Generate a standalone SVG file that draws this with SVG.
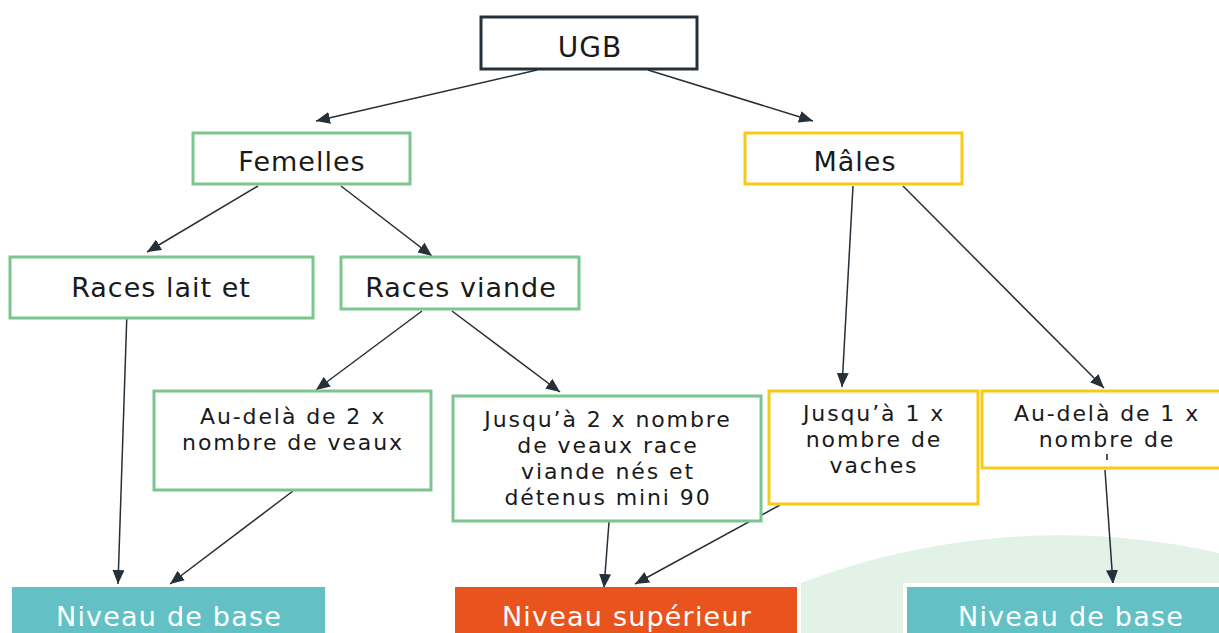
<svg xmlns="http://www.w3.org/2000/svg" width="1219" height="633" viewBox="0 0 1219 633">
<defs>
<marker id="ah" viewBox="0 0 14 12" refX="14" refY="6" markerWidth="14" markerHeight="12" markerUnits="userSpaceOnUse" orient="auto">
<path d="M0,0 L14,6 L0,12 Z" fill="#253039"/>
</marker>
<style>
.t{font-family:"DejaVu Sans","Liberation Sans",sans-serif;fill:#1a1a1a;text-anchor:middle}
.big{font-size:27px;letter-spacing:1px}
.sm{font-size:22px;letter-spacing:1.9px}
.w{font-family:"DejaVu Sans","Liberation Sans",sans-serif;fill:#ffffff;text-anchor:middle;font-size:27px;letter-spacing:1.2px}
.g{fill:#ffffff;stroke:#7dc58f;stroke-width:3}
.y{fill:#ffffff;stroke:#f7cb15;stroke-width:3}
.c{stroke:#253039;stroke-width:1.5;fill:none;marker-end:url(#ah)}
</style>
</defs>
<rect x="0" y="0" width="1219" height="633" fill="#ffffff"/>
<path d="M801,633 V583 A727,727 0 0 1 1219,553 V633 Z" fill="#e2f2e6"/>
<g id="connectors">
<line class="c" x1="537" y1="70" x2="316" y2="121"/>
<line class="c" x1="648" y1="70" x2="813" y2="121"/>
<line class="c" x1="258" y1="186" x2="147" y2="252"/>
<line class="c" x1="341" y1="186" x2="432" y2="256"/>
<line class="c" x1="127" y1="311" x2="118" y2="584"/>
<line class="c" x1="422" y1="311" x2="316" y2="390"/>
<line class="c" x1="452" y1="311" x2="560" y2="392"/>
<line class="c" x1="293" y1="491" x2="170" y2="584"/>
<line class="c" x1="609" y1="522" x2="604" y2="588"/>
<line class="c" x1="780" y1="505" x2="635" y2="584"/>
<line class="c" x1="853" y1="186" x2="842" y2="387"/>
<line class="c" x1="903" y1="186" x2="1104" y2="388"/>
<line class="c" x1="1105" y1="470" x2="1113" y2="584"/>
</g>
<g id="ugb">
<rect x="481" y="17" width="216" height="52" fill="#ffffff" stroke="#253039" stroke-width="3"/>
<text class="t" x="590" y="57" style="font-size:28px;letter-spacing:1px">UGB</text>
</g>
<g id="femelles">
<rect class="g" x="193" y="133" width="217" height="51"/>
<text class="t big" x="302" y="171">Femelles</text>
</g>
<g id="males">
<rect class="y" x="745" y="133" width="217" height="51"/>
<text class="t big" x="855" y="171">Mâles</text>
</g>
<g id="races-lait">
<rect class="g" x="10" y="257" width="303" height="61"/>
<text class="t big" x="161" y="297">Races lait et</text>
</g>
<g id="races-viande">
<rect class="g" x="341" y="257" width="238" height="52"/>
<text class="t big" x="461" y="297">Races viande</text>
</g>
<g id="audela2">
<rect class="g" x="154" y="391" width="277" height="99"/>
<text class="t sm" x="293" y="424">Au-delà de 2 x</text>
<text class="t sm" x="293" y="450">nombre de veaux</text>
</g>
<g id="jusqua2">
<rect class="g" x="453" y="396" width="308" height="125"/>
<text class="t sm" x="608" y="427">Jusqu’à 2 x nombre</text>
<text class="t sm" x="608" y="453">de veaux race</text>
<text class="t sm" x="608" y="479">viande nés et</text>
<text class="t sm" x="608" y="505">détenus mini 90</text>
</g>
<g id="jusqua1">
<rect class="y" x="769" y="391" width="209" height="113"/>
<text class="t sm" x="874" y="421">Jusqu’à 1 x</text>
<text class="t sm" x="874" y="447">nombre de</text>
<text class="t sm" x="874" y="473">vaches</text>
</g>
<g id="audela1">
<rect class="y" x="982" y="391" width="250" height="77"/>
<text class="t sm" x="1107" y="421">Au-delà de 1 x</text>
<text class="t sm" x="1107" y="447">nombre de</text>
<line x1="1107" y1="454" x2="1107" y2="460" stroke="#1a1a1a" stroke-width="1.5"/>
</g>
<g id="niveau-base-1">
<rect x="12" y="587" width="313" height="50" fill="#63c1c6"/>
<text class="w" x="169" y="626">Niveau de base</text>
</g>
<g id="niveau-superieur">
<rect x="455" y="587" width="342" height="50" fill="#e9531d"/>
<text class="w" x="627" y="626">Niveau supérieur</text>
</g>
<g id="niveau-base-2">
<rect x="903" y="583" width="320" height="54" fill="#ffffff"/>
<rect x="907" y="587" width="316" height="50" fill="#63c1c6"/>
<text class="w" x="1071" y="626">Niveau de base</text>
</g>
</svg>
